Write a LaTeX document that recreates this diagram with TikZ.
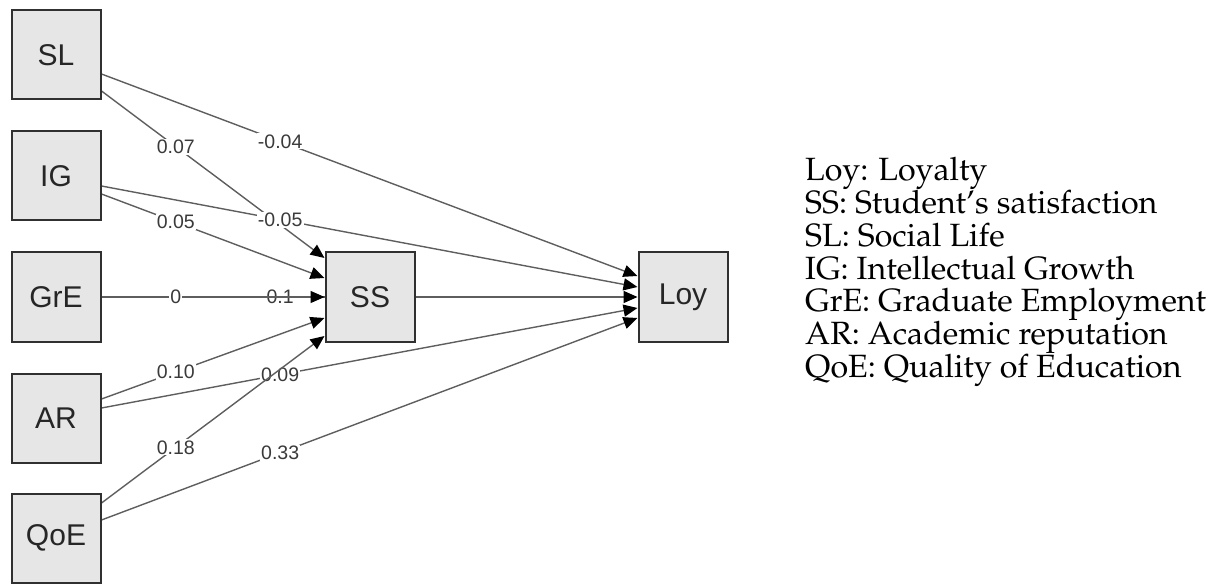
\documentclass[tikz,border=0pt]{standalone}
\usepackage[T1]{fontenc}
\usepackage{fontspec}
\newfontfamily\boxfont{Liberation Sans}
\usetikzlibrary{arrows.meta,backgrounds}
\definecolor{boxfill}{HTML}{E6E6E6}
\definecolor{boxline}{HTML}{303030}
\definecolor{edgegray}{HTML}{5E5E5E}
\definecolor{labelgray}{HTML}{3A3A3A}
\newcommand{\legendfont}{\fontsize{32.2}{34}\usefont{T1}{ppl}{m}{n}}

\begin{document}
\begin{tikzpicture}[x=1pt,y=-1pt,
  var/.style={draw=boxline, fill=boxfill, line width=2pt,
    minimum width=89pt, minimum height=89pt, inner sep=0pt,
    font=\boxfont\fontsize{30}{32}\selectfont, text=black!85},
  effect/.style={draw=edgegray, line width=1.4pt,
    -{Triangle[length=14pt,width=12pt,black]}},
  coef/.style={fill=white, inner sep=1.2pt, pos=1/3,
    font=\boxfont\fontsize{19.5}{20}\selectfont, text=labelgray},
  legend/.style={anchor=base west, inner sep=0pt, font=\legendfont, text=black}]
\useasboundingbox (0,0) rectangle (1217,585);

% observed variables
\node[var] (SL)  at (56,55)  {SL};
\node[var] (IG)  at (56,176) {IG};
\node[var] (GrE) at (56,297) {GrE};
\node[var] (AR)  at (56,418) {AR};
\node[var] (QoE) at (56,538) {QoE};
\node[var] (SS)  at (370,297) {SS};
\node[var] (Loy) at (683,297) {Loy};

% path coefficients
\begin{pgfonlayer}{background}
\draw[effect] ([yshift=-36pt]SL.east) -- node[coef]{0.07}  ([yshift=39pt]SS.west);
\draw[effect] ([yshift=-19pt]SL.east) -- node[coef]{-0.04} ([yshift=21pt]Loy.west);
\draw[effect] ([yshift=-18pt]IG.east) -- node[coef]{0.05}  ([yshift=19pt]SS.west);
\draw[effect] ([yshift=-10pt]IG.east) -- node[coef]{-0.05} ([yshift=10pt]Loy.west);
\draw[effect] (GrE.east) -- node[coef]{0.1} (Loy.west);
\draw[effect] (GrE.east) -- node[coef]{0}   (SS.west);
\draw[effect] ([yshift=19pt]AR.east)  -- node[coef]{0.10}  ([yshift=-21pt]SS.west);
\draw[effect] ([yshift=10pt]AR.east)  -- node[coef]{0.09}  ([yshift=-11pt]Loy.west);
\draw[effect] ([yshift=35pt]QoE.east) -- node[coef]{0.18}  ([yshift=-39pt]SS.west);
\draw[effect] ([yshift=18pt]QoE.east) -- node[coef]{0.33}  ([yshift=-21pt]Loy.west);
\end{pgfonlayer}

% abbreviations
\foreach \i/\t in {0/{Loy: Loyalty}, 1/{SS: Student's satisfaction},
                   2/{SL: Social Life}, 3/{IG: Intellectual Growth},
                   4/{GrE: Graduate Employment}, 5/{AR: Academic reputation},
                   6/{QoE: Quality of Education}}
  \node[legend] (leg\i) at (805,181+32.7*\i) {\t};
\end{tikzpicture}
\end{document}
